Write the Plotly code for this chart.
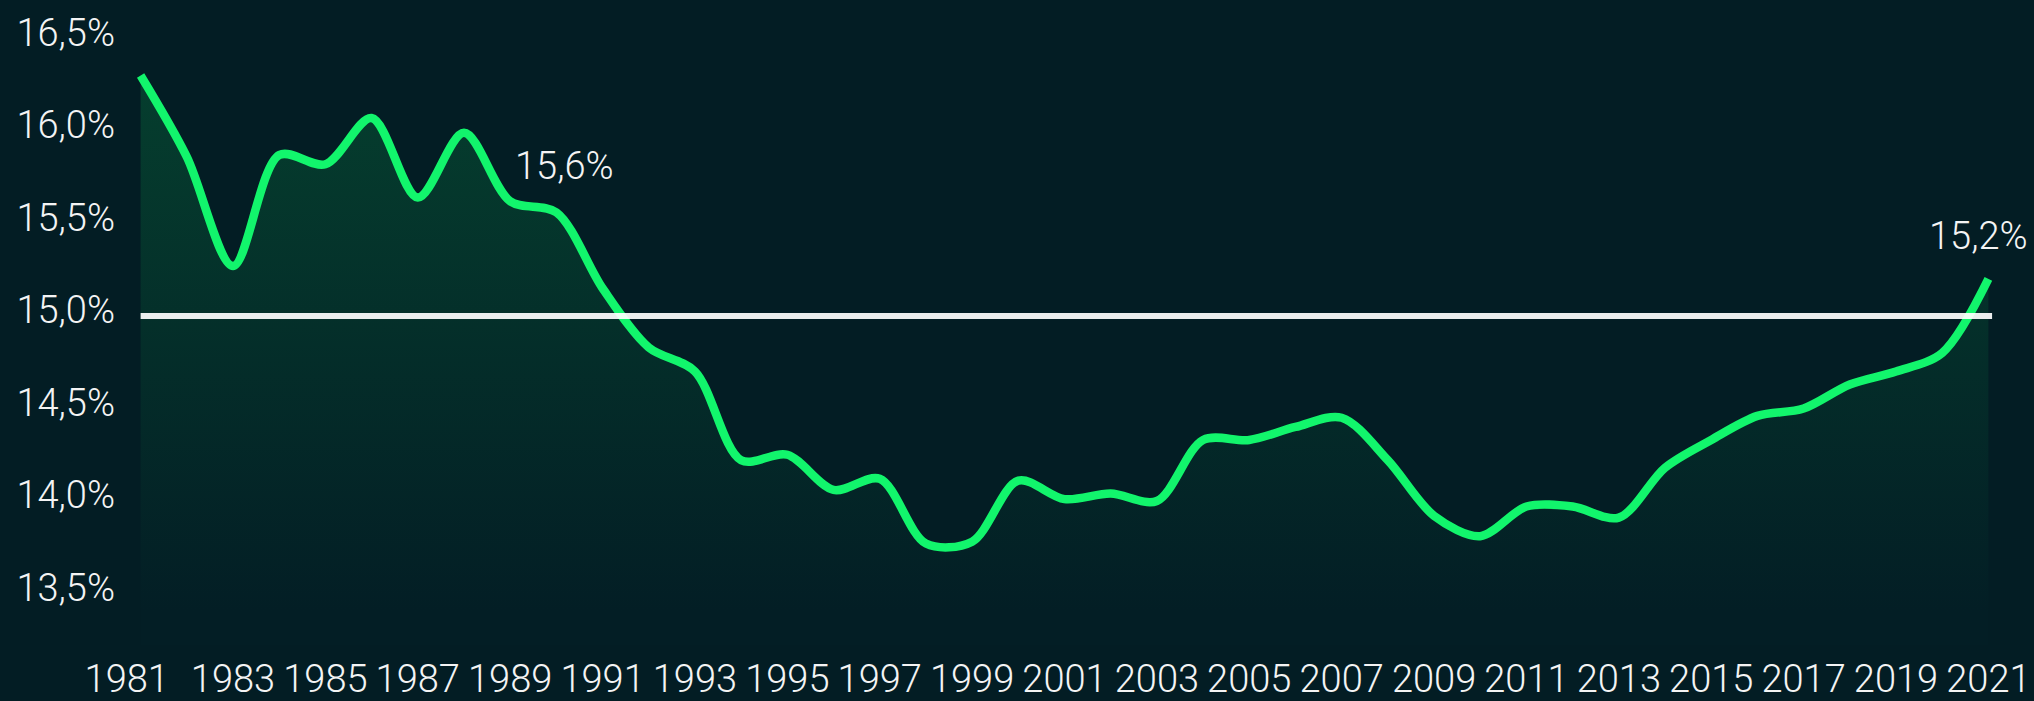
"""
Share of ... over time (1981-2021), dark theme line chart with gradient fill.
"""
import plotly.graph_objects as go

# Data
years = list(range(1981, 2022))
share_pct = [
    16.30, 15.86, 15.27, 15.87, 15.82, 16.07, 15.64, 15.99, 15.62, 15.56,
    15.15, 14.83, 14.70, 14.22, 14.25, 14.06, 14.12, 13.77, 13.78, 14.11,
    14.01, 14.04, 14.00, 14.33, 14.33, 14.40, 14.45, 14.22, 13.92, 13.81,
    13.97, 13.97, 13.91, 14.18, 14.33, 14.46, 14.50, 14.63, 14.70, 14.80,
    15.20,
]
reference_pct = 15.0
y_ticks = [13.5, 14.0, 14.5, 15.0, 15.5, 16.0, 16.5]
y_tick_text = ['13,5%', '14,0%', '14,5%', '15,0%', '15,5%', '16,0%', '16,5%']
x_ticks = list(range(1981, 2022, 2))
x_tick_text = [str(y) for y in x_ticks]
x_tick_text[0] = '1981\u00a0\u00a0\u00a0'
labels = {1990: '15,6%', 2021: '15,2%'}

BG = '#031d24'
GREEN = '#12f56c'
FONT = 'Roboto, Liberation Sans, sans-serif'
font = dict(family=FONT, size=38, color='#f4f4f4', weight=300)

fig = go.Figure()

# Main line with gradient area below
fig.add_trace(go.Scatter(
    x=years,
    y=share_pct,
    mode='lines',
    line=dict(color=GREEN, width=8.5, shape='spline', smoothing=0.9),
    fill='tozeroy',
    fillgradient=dict(
        type='vertical',
        start=13.4,
        stop=16.3,
        colorscale=[[0, 'rgb(3,30,37)'], [1, 'rgb(5,62,46)']],
    ),
    hoverinfo='skip',
))

# 15% reference line
fig.add_shape(
    type='line', xref='x', yref='y',
    x0=years[0], x1=years[-1] + 0.08,
    y0=reference_pct, y1=reference_pct,
    line=dict(color='rgba(255,255,255,0.92)', width=6),
    layer='above',
)

# Value labels
offsets = {1990: (8, 46), 2021: (-10, 43)}
for yr, txt in labels.items():
    fig.add_annotation(
        x=yr, y=share_pct[years.index(yr)],
        text=txt, showarrow=False,
        xshift=offsets[yr][0], yshift=offsets[yr][1],
        font=font,
    )

fig.update_layout(
    width=2034,
    height=701,
    paper_bgcolor=BG,
    plot_bgcolor=BG,
    showlegend=False,
    margin=dict(l=136, r=41, t=10, b=56),
    font=font,
    hovermode=False,
)

fig.update_xaxes(
    range=[1980.9, 2021.1],
    tickvals=x_ticks,
    ticktext=x_tick_text,
    tickangle=0,
    automargin=False,
    showgrid=False, zeroline=False, showline=False,
    ticks='', ticklabelstandoff=8,
)
fig.update_yaxes(
    range=[13.2216, 16.654],
    tickvals=y_ticks,
    ticktext=y_tick_text,
    automargin=False,
    showgrid=False, zeroline=False, showline=False,
    ticks='', ticklabelstandoff=20, ticklabelshift=-6,
)

fig.write_html(
    "out.html",
    config={'displayModeBar': False},
    post_script="document.body.style.margin='0';document.body.style.overflow='hidden';",
)
